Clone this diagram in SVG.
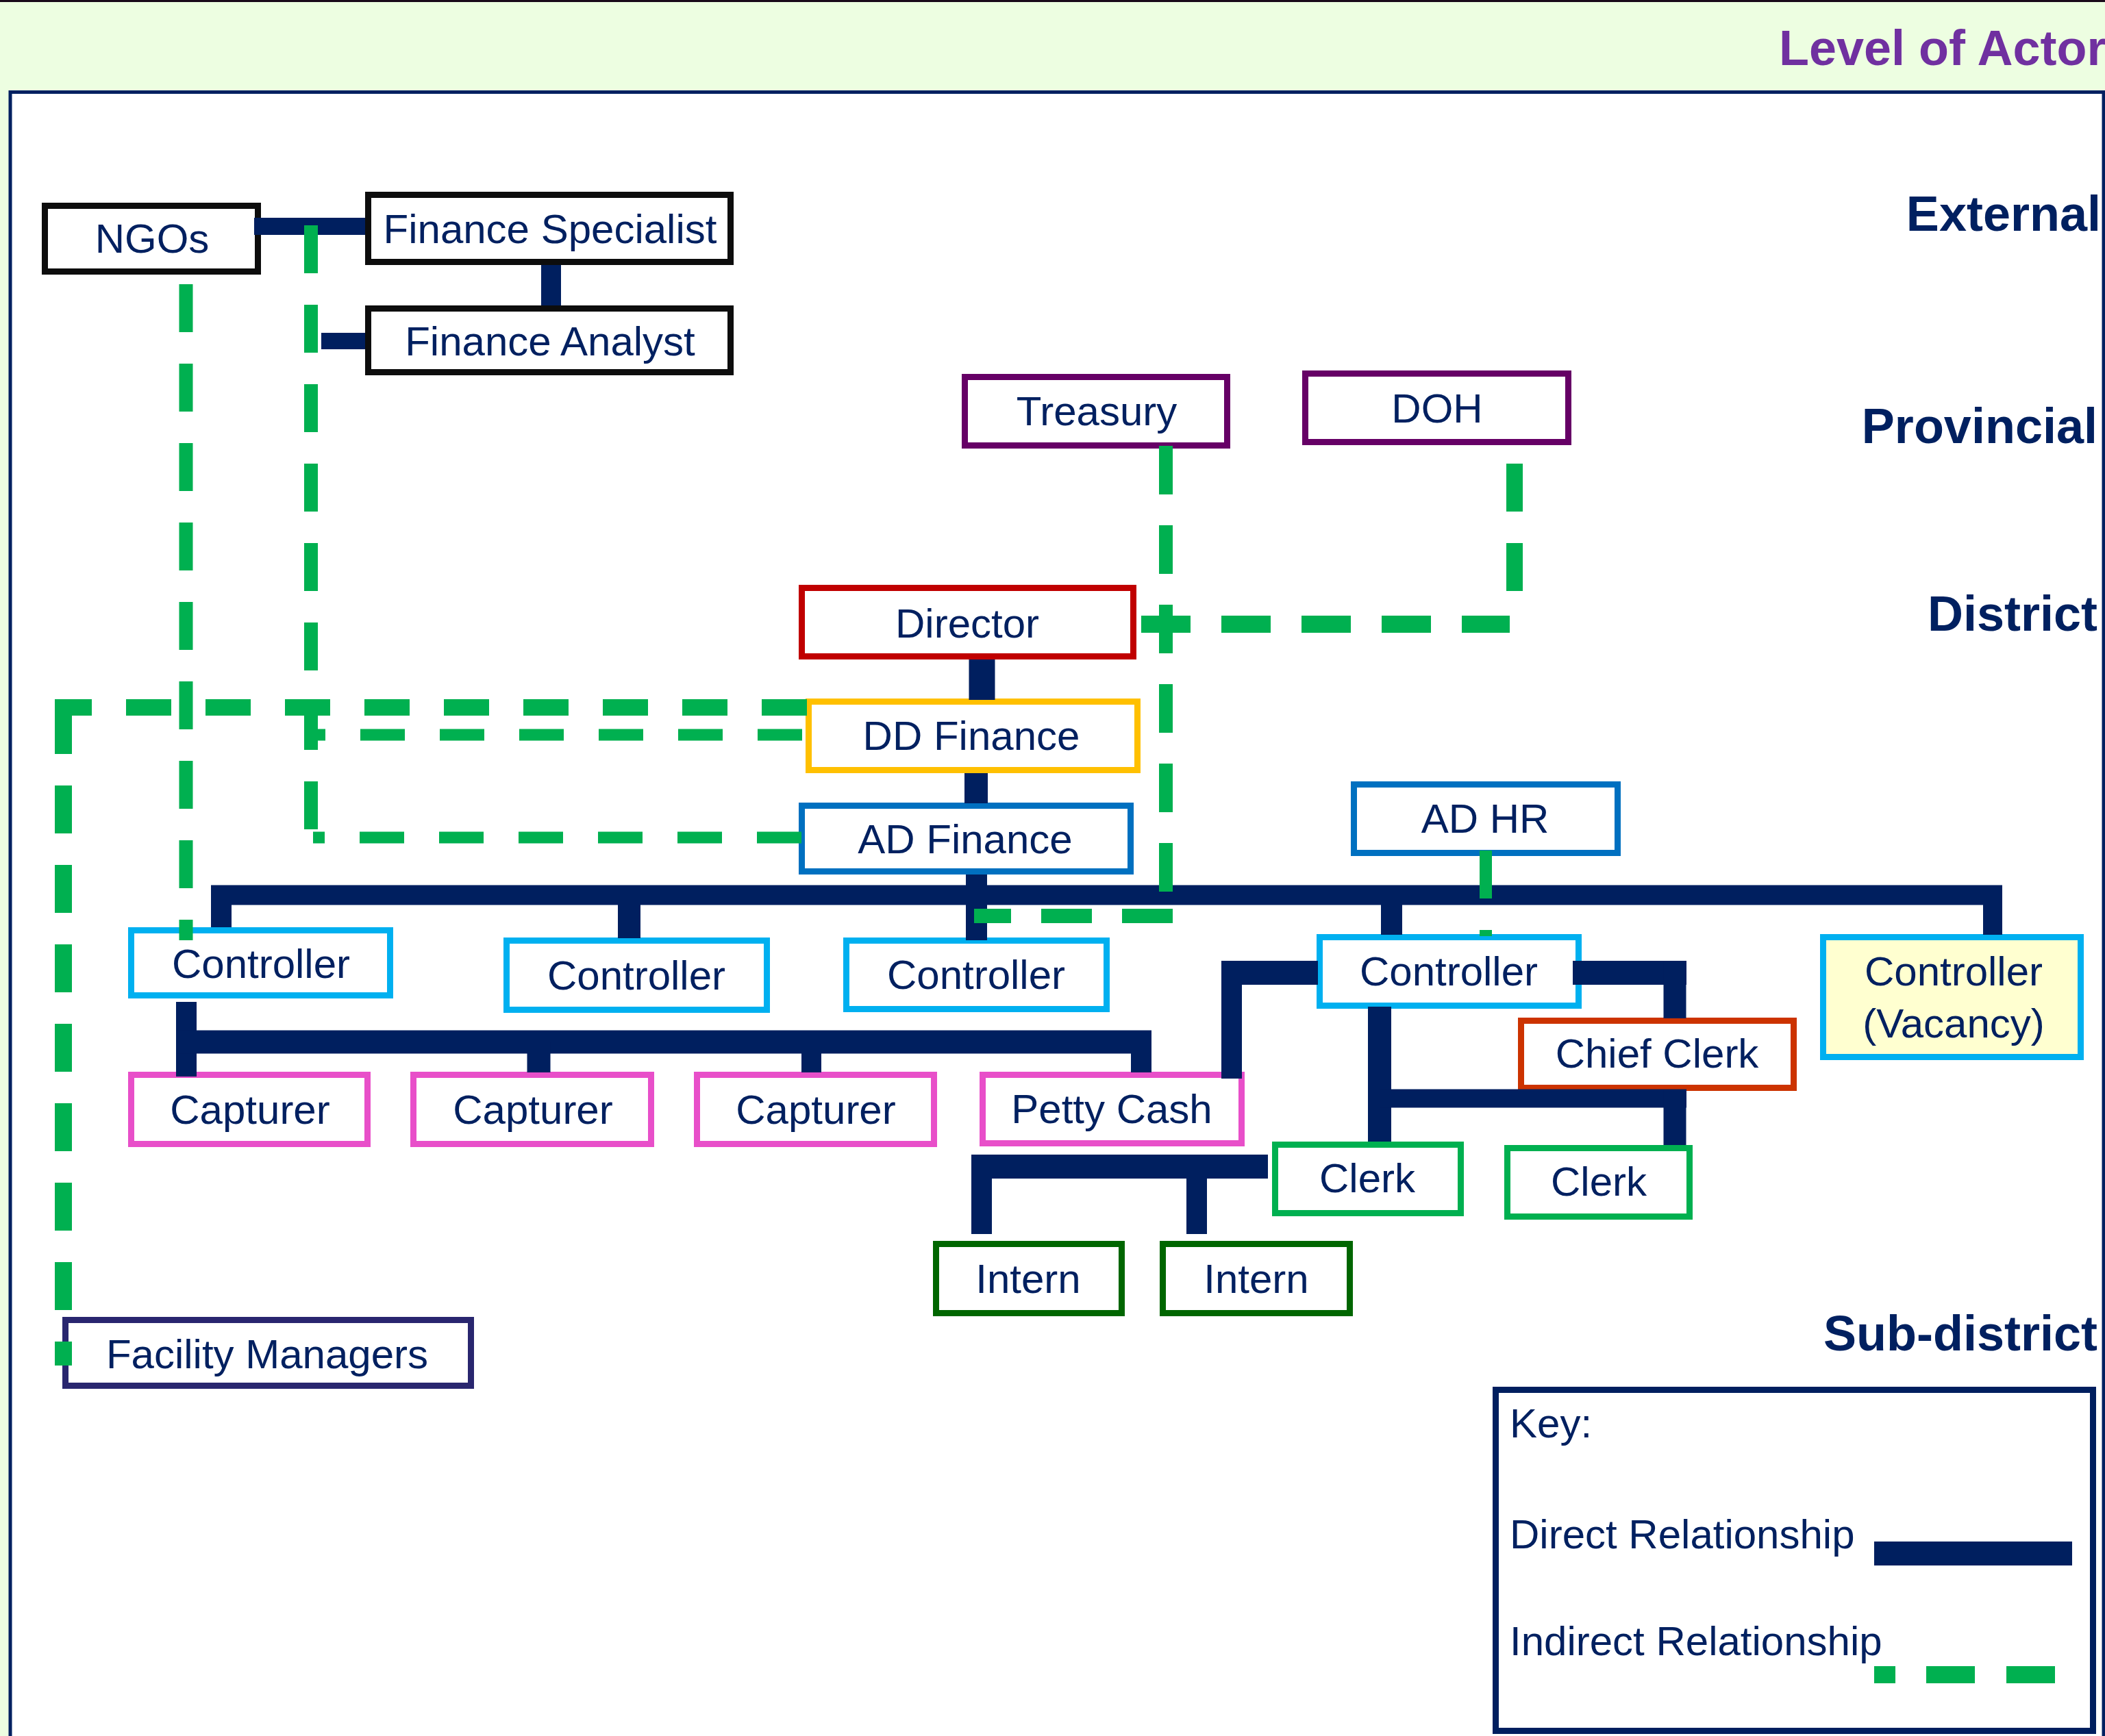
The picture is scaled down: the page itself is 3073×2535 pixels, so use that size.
<svg xmlns="http://www.w3.org/2000/svg" width="3073" height="2535" viewBox="0 0 3073 2535">
<style>
.box{fill:#fff;stroke-width:9}
.lbl{font-family:"Liberation Sans",Arial,sans-serif;font-size:60px;fill:#002060;text-anchor:middle}
.lvl{font-family:"Liberation Sans",Arial,sans-serif;font-size:72px;font-weight:bold;fill:#002060;text-anchor:end}
.key{font-family:"Liberation Sans",Arial,sans-serif;font-size:60px;fill:#002060}
.d{stroke:#001F5F;fill:none}
.i{stroke:#00B050;fill:none}
.i1{stroke-dasharray:70 46}
</style>
<rect x="0" y="0" width="3073" height="2535" fill="#EDFEE1"/>
<line x1="0" y1="1.5" x2="3073" y2="1.5" stroke="#1A0A1A" stroke-width="3"/>
<rect x="15" y="134.5" width="3056" height="2500" fill="#fff" stroke="#002060" stroke-width="5"/>
<text x="2597" y="95" font-family="Liberation Sans, Arial, sans-serif" font-size="72" font-weight="bold" fill="#7030A0">Level of Actor</text>

<g id="levels">
<text class="lvl" x="3067" y="337">External</text>
<text class="lvl" x="3062" y="647">Provincial</text>
<text class="lvl" x="3062" y="921">District</text>
<text class="lvl" x="3062" y="1972">Sub-district</text>
</g>

<g id="ngos"><rect class="box" x="65.5" y="300.5" width="311" height="96" stroke="#0D0D0D"/><text class="lbl" x="222" y="369">NGOs</text></g>
<g id="finance-specialist"><rect class="box" x="537.5" y="284.5" width="529" height="98" stroke="#0D0D0D"/><text class="lbl" x="803" y="355">Finance Specialist</text></g>
<g id="finance-analyst"><rect class="box" x="537.5" y="450.5" width="529" height="93" stroke="#0D0D0D"/><text class="lbl" x="803" y="519">Finance Analyst</text></g>
<g id="treasury"><rect class="box" x="1408.5" y="550.5" width="383" height="100" stroke="#660066"/><text class="lbl" x="1601" y="621">Treasury</text></g>
<g id="doh"><rect class="box" x="1905.5" y="545.5" width="384" height="100" stroke="#660066"/><text class="lbl" x="2098" y="617">DOH</text></g>
<g id="director"><rect class="box" x="1170.5" y="858.5" width="484" height="100" stroke="#C00000"/><text class="lbl" x="1412" y="931">Director</text></g>
<g id="dd-finance"><rect class="box" x="1180.5" y="1024.5" width="480" height="100" stroke="#FFC000"/><text class="lbl" x="1418" y="1095">DD Finance</text></g>
<g id="ad-finance"><rect class="box" x="1170.5" y="1176.5" width="480" height="96" stroke="#0070C0"/><text class="lbl" x="1409" y="1246">AD Finance</text></g>
<g id="ad-hr"><rect class="box" x="1976.5" y="1145.5" width="385" height="100" stroke="#0070C0"/><text class="lbl" x="2168" y="1216">AD HR</text></g>
<g id="controller-1"><rect class="box" x="191.5" y="1358.5" width="378" height="95" stroke="#00B0F0"/><text class="lbl" x="381" y="1428">Controller</text></g>
<g id="controller-2"><rect class="box" x="739.5" y="1373.5" width="380" height="101" stroke="#00B0F0"/><text class="lbl" x="929" y="1445">Controller</text></g>
<g id="controller-3"><rect class="box" x="1235.5" y="1373.5" width="380" height="100" stroke="#00B0F0"/><text class="lbl" x="1425" y="1444">Controller</text></g>
<g id="controller-4"><rect class="box" x="1926.5" y="1368.5" width="378" height="100" stroke="#00B0F0"/><text class="lbl" x="2115" y="1439">Controller</text></g>
<g id="controller-vacancy"><rect class="box" x="2661.5" y="1368.5" width="376" height="175" stroke="#00B0F0" style="fill:#FFFFD0"/><text class="lbl" x="2852" y="1439">Controller</text><text class="lbl" x="2852" y="1515">(Vacancy)</text></g>
<g id="capturer-1"><rect class="box" x="191.5" y="1569.5" width="345" height="101" stroke="#E84FC9"/><text class="lbl" x="365" y="1641">Capturer</text></g>
<g id="capturer-2"><rect class="box" x="603.5" y="1569.5" width="347" height="101" stroke="#E84FC9"/><text class="lbl" x="778" y="1641">Capturer</text></g>
<g id="capturer-3"><rect class="box" x="1017.5" y="1569.5" width="346" height="101" stroke="#E84FC9"/><text class="lbl" x="1191" y="1641">Capturer</text></g>
<g id="petty-cash"><rect class="box" x="1434.5" y="1569.5" width="378" height="100" stroke="#E84FC9"/><text class="lbl" x="1623" y="1640">Petty Cash</text></g>
<g id="chief-clerk"><rect class="box" x="2220.5" y="1490.5" width="398" height="98" stroke="#CC3300"/><text class="lbl" x="2419" y="1559">Chief Clerk</text></g>
<g id="clerk-1"><rect class="box" x="1861.5" y="1671.5" width="271" height="100" stroke="#00B050"/><text class="lbl" x="1996" y="1741">Clerk</text></g>
<g id="clerk-2"><rect class="box" x="2200.5" y="1676.5" width="266" height="100" stroke="#00B050"/><text class="lbl" x="2334" y="1746">Clerk</text></g>
<g id="intern-1"><rect class="box" x="1366.5" y="1816.5" width="271" height="101" stroke="#006600"/><text class="lbl" x="1501" y="1888">Intern</text></g>
<g id="intern-2"><rect class="box" x="1697.5" y="1816.5" width="273" height="101" stroke="#006600"/><text class="lbl" x="1834" y="1888">Intern</text></g>
<g id="facility-managers"><rect class="box" x="95.5" y="1927.5" width="592" height="96" stroke="#29266F"/><text class="lbl" x="390" y="1998">Facility Managers</text></g>

<g id="connectors">
<line class="d" x1="371" y1="330.5" x2="533" y2="330.5" stroke-width="25"/>
<line class="d" x1="804.5" y1="387" x2="804.5" y2="446" stroke-width="29"/>
<line class="d" x1="469" y1="498" x2="533" y2="498" stroke-width="24"/>
<line class="d" x1="1433.5" y1="963" x2="1433.5" y2="1022" stroke-width="38"/>
<line class="d" x1="1425" y1="1129" x2="1425" y2="1173" stroke-width="34"/>
<line class="d" x1="1425.5" y1="1277" x2="1425.5" y2="1373" stroke-width="31"/>
<line class="d" x1="308" y1="1307" x2="2923" y2="1307" stroke-width="29"/>
<line class="d" x1="323" y1="1300" x2="323" y2="1354" stroke-width="30"/>
<line class="d" x1="918.5" y1="1307" x2="918.5" y2="1370" stroke-width="33"/>
<line class="d" x1="2031.5" y1="1307" x2="2031.5" y2="1365" stroke-width="31"/>
<line class="d" x1="2909" y1="1300" x2="2909" y2="1365" stroke-width="28"/>
<line class="d" x1="272" y1="1463" x2="272" y2="1572" stroke-width="30"/>
<line class="d" x1="257" y1="1521.5" x2="1681" y2="1521.5" stroke-width="34"/>
<line class="d" x1="786.5" y1="1521" x2="786.5" y2="1566" stroke-width="34"/>
<line class="d" x1="1184.5" y1="1521" x2="1184.5" y2="1566" stroke-width="29"/>
<line class="d" x1="1666" y1="1521" x2="1666" y2="1566" stroke-width="30"/>
<line class="d" x1="1784" y1="1420.5" x2="1924" y2="1420.5" stroke-width="35"/>
<line class="d" x1="1798" y1="1403" x2="1798" y2="1575" stroke-width="30"/>
<line class="d" x1="2296" y1="1420.5" x2="2462" y2="1420.5" stroke-width="35"/>
<line class="d" x1="2445" y1="1403" x2="2445" y2="1487" stroke-width="33"/>
<line class="d" x1="2014" y1="1470" x2="2014" y2="1667" stroke-width="34"/>
<line class="d" x1="2014" y1="1604" x2="2462" y2="1604" stroke-width="27"/>
<line class="d" x1="2445" y1="1591" x2="2445" y2="1672" stroke-width="33"/>
<line class="d" x1="1418" y1="1703.5" x2="1851" y2="1703.5" stroke-width="35"/>
<line class="d" x1="1433" y1="1703" x2="1433" y2="1802" stroke-width="30"/>
<line class="d" x1="1747" y1="1703" x2="1747" y2="1802" stroke-width="30"/>

<line class="i i1" x1="271.5" y1="415" x2="271.5" y2="1373" stroke-width="20"/>
<line class="i i1" x1="454" y1="329" x2="454" y2="1211" stroke-width="20"/>
<line class="i" x1="1170" y1="1223" x2="457" y2="1223" stroke-width="17" stroke-dasharray="65 51"/>
<line class="i" x1="1171" y1="1073" x2="459" y2="1073" stroke-width="17" stroke-dasharray="65 51"/>
<line class="i" x1="1178" y1="1033" x2="80" y2="1033" stroke-width="24" stroke-dasharray="66 50"/>
<line class="i i1" x1="92.5" y1="1031" x2="92.5" y2="1994" stroke-width="25"/>
<line class="i" x1="1702" y1="651" x2="1702" y2="1303" stroke-width="20" stroke-dasharray="71 45"/>
<line class="i" x1="1712" y1="1337.5" x2="1422" y2="1337.5" stroke-width="21" stroke-dasharray="74 44"/>
<line class="i" x1="1666" y1="911.5" x2="2204" y2="911.5" stroke-width="25" stroke-dasharray="72 45"/>
<line class="i i1" x1="2211" y1="863" x2="2211" y2="650" stroke-width="24"/>
<line class="i i1" x1="2169" y1="1242" x2="2169" y2="1367" stroke-width="18"/>
</g>

<g id="key">
<rect x="2183.5" y="2029.5" width="872" height="498" fill="#fff" stroke="#001F5F" stroke-width="9"/>
<text class="key" x="2204" y="2099">Key:</text>
<text class="key" x="2204" y="2261">Direct Relationship</text>
<text class="key" x="2204" y="2417">Indirect Relationship</text>
<line class="d" x1="2736" y1="2268.5" x2="3025" y2="2268.5" stroke-width="35"/>
<line class="i" x1="2736" y1="2445.5" x2="3000" y2="2445.5" stroke-width="25" stroke-dasharray="31 45 71 46 71 46"/>
</g>
</svg>
